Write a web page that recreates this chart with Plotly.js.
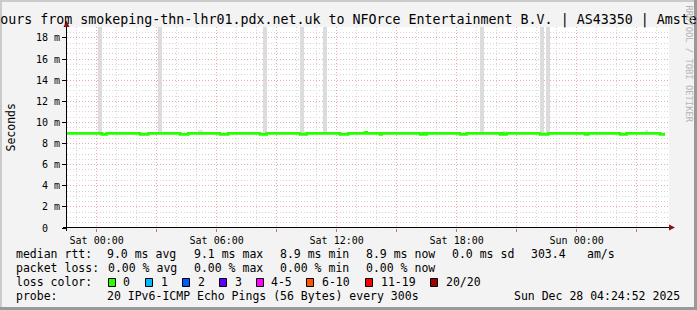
<!DOCTYPE html>
<html><head><meta charset="utf-8">
<script src="https://cdn.plot.ly/plotly-3.0.1.min.js"></script>
<style>html,body{margin:0;padding:0;background:#f3f3f3;overflow:hidden}#chart{width:697px;height:310px;}</style>
</head><body><div id="chart"></div>
<script>
// ---- data ----
const titleText = "ours from smokeping-thn-lhr01.pdx.net.uk to NFOrce Entertainment B.V. | AS43350 | Amste";
// median RTT (ms), step changes
const medTime = ["2025-12-26 22:31","2025-12-27 00:15","2025-12-27 00:30","2025-12-27 02:10","2025-12-27 02:35",
  "2025-12-27 04:10","2025-12-27 04:35","2025-12-27 06:10","2025-12-27 06:35","2025-12-27 08:10","2025-12-27 08:30",
  "2025-12-27 10:10","2025-12-27 10:30","2025-12-27 12:10","2025-12-27 12:35","2025-12-27 13:25","2025-12-27 13:30",
  "2025-12-27 14:10","2025-12-27 14:15","2025-12-27 16:10","2025-12-27 16:20","2025-12-27 16:25","2025-12-27 16:30",
  "2025-12-27 18:10","2025-12-27 18:30","2025-12-27 20:10","2025-12-27 20:15","2025-12-27 20:20","2025-12-27 20:30",
  "2025-12-27 22:10","2025-12-27 22:35","2025-12-28 00:25","2025-12-28 00:35","2025-12-28 02:10","2025-12-28 02:30",
  "2025-12-28 04:10","2025-12-28 04:25"];
const medVal = [8.97,8.86,8.97,8.86,8.97,
  8.86,8.97,8.86,8.97,8.86,8.97,
  8.86,8.97,8.86,8.97,9.06,8.97,
  8.86,8.97,8.86,8.97,8.86,8.97,
  8.86,8.97,8.86,8.97,8.86,8.97,
  8.86,8.97,8.86,8.97,8.86,8.97,
  8.86,8.86];
// tall smoke (max ping far above median)
const spikeTime = ["2025-12-27 00:09","2025-12-27 03:10","2025-12-27 08:25","2025-12-27 10:16","2025-12-27 11:25",
  "2025-12-27 19:16","2025-12-27 22:16","2025-12-27 22:34"];
const spikeWidthMin = [12,12,12,12,12,12,12,12];
const spikeTop = [25,25,25,25,25,25,25,25];
// small smoke just above the median line
const smokeTime = ["2025-12-26 23:54","2025-12-27 01:40","2025-12-27 05:10","2025-12-27 07:40","2025-12-27 08:45",
  "2025-12-27 12:20","2025-12-27 13:50","2025-12-27 15:28","2025-12-27 17:12","2025-12-27 17:56","2025-12-27 19:35",
  "2025-12-27 20:25","2025-12-27 21:30","2025-12-28 01:10","2025-12-28 03:30","2025-12-28 03:53"];
const smokeWidthMin = [10,12,15,12,10,15,40,24,15,15,10,12,40,18,10,15];
const smokeTop = [9.07,9.07,9.3,9.07,9.1,9.07,9.07,9.12,9.07,9.07,9.07,9.15,9.07,9.1,9.3,9.07];
const medianBase = 8.97;
// axes
const xTickVals = ["2025-12-27 00:00","2025-12-27 03:00","2025-12-27 06:00","2025-12-27 09:00","2025-12-27 12:00",
  "2025-12-27 15:00","2025-12-27 18:00","2025-12-27 21:00","2025-12-28 00:00","2025-12-28 03:00"];
const xTickText = ["Sat 00:00","","Sat 06:00","","Sat 12:00","","Sat 18:00","","Sun 00:00",""];
const yTickVals = [0,2,4,6,8,10,12,14,16,18];
const yTickText = ["0\u00a0\u00a0","2 m","4 m","6 m","8 m","10 m","12 m","14 m","16 m","18 m"];
// legend
const lossLabels = ["0","1","2","3","4-5","6-10","11-19","20/20"];
const lossColors = ["#26ff00","#00b8ff","#0059ff","#5e00ff","#ff00ff","#ff5500","#ff0000","#a00000"];
const rttItems = ["9.0 ms avg","9.1 ms max","8.9 ms min","8.9 ms now","0.0 ms sd","303.4","am/s"];
const lossItems = ["0.00 % avg","0.00 % max","0.00 % min","0.00 % now"];
const probeText = "20 IPv6-ICMP Echo Pings (56 Bytes) every 300s";
const dateText = "Sun Dec 28 04:24:52 2025";

// ---- layout helpers (pixel -> paper) ----
const L = 67, R = 669, T = 27, B = 228, W = 697, H = 310;
const PX = p => (p - L) / (R - L);
const PY = p => (B - p) / (B - T);
const MONO = "DejaVu Sans Mono";

const traces = [
  {type:'bar', x:spikeTime, y:spikeTop.map(v=>v-medianBase), base:spikeTime.map(()=>medianBase),
   width:spikeWidthMin.map(m=>m*60000), marker:{color:'#dcdcdc', line:{width:0}}, hoverinfo:'skip', showlegend:false},
  {type:'bar', x:smokeTime, y:smokeTop.map(v=>v-medianBase), base:smokeTime.map(()=>medianBase),
   width:smokeWidthMin.map(m=>m*60000), marker:{color:'#e2e2e2', line:{width:0}}, hoverinfo:'skip', showlegend:false},
  {type:'scatter', mode:'lines', x:medTime, y:medVal, line:{color:'#26ff00', width:2.7, shape:'hv'},
   hoverinfo:'skip', showlegend:false}
];

const ann = [];
function txt(text, x, yc, opts) {
  ann.push(Object.assign({text:text, x:PX(x), y:PY(yc), xref:'paper', yref:'paper', showarrow:false,
    xanchor:'left', yanchor:'middle', font:{family:MONO, size:11.5, color:'#000'}, borderpad:0}, opts||{}));
}
const rowY = [254, 268, 282, 296];
txt("median rtt:", 15, rowY[0]);
const rttX = [106, 192.5, 278.5, 364.5, 451, 529.5, 585.5];
rttItems.forEach((t,i)=>txt(t, rttX[i], rowY[0]));
txt("packet loss:", 15, rowY[1]);
const lossX = [106.5, 192.5, 278.5, 364.5];
lossItems.forEach((t,i)=>txt(t, lossX[i], rowY[1]));
txt("loss color:", 15, rowY[2]);
const boxX = [108.5, 145.5, 182.5, 219.5, 256.5, 306.5, 365.5, 430.5];
const lblX = [122, 159.5, 196.5, 233.5, 270, 320.5, 380, 445];
lossLabels.forEach((t,i)=>txt(t, lblX[i], rowY[2]));
txt("probe:", 15, rowY[3]);
txt(probeText, 106, rowY[3]);
txt(dateText, 681, rowY[3], {xanchor:'right'});
// axis title and watermark
ann.push({text:"Seconds", x:PX(10), y:PY(127.5), xref:'paper', yref:'paper', showarrow:false, textangle:-90,
  xanchor:'center', yanchor:'middle', font:{family:MONO, size:11.5, color:'#000'}});
ann.push({text:"RRDTOOL / TOBI OETIKER", x:PX(688.5), y:PY(64), xref:'paper', yref:'paper', showarrow:false, textangle:90,
  xanchor:'center', yanchor:'middle', font:{family:MONO, size:8.8, color:'#b4b4b4'}});

const shapes = [];
// frame
shapes.push({type:'rect', xref:'paper', yref:'paper', x0:PX(0), x1:PX(W), y0:PY(0), y1:PY(2), fillcolor:'#cbcbcb', line:{width:0}, layer:'below'});
shapes.push({type:'rect', xref:'paper', yref:'paper', x0:PX(0), x1:PX(2), y0:PY(0), y1:PY(H), fillcolor:'#cbcbcb', line:{width:0}, layer:'below'});
shapes.push({type:'rect', xref:'paper', yref:'paper', x0:PX(0), x1:PX(W), y0:PY(H-3), y1:PY(H), fillcolor:'#999999', line:{width:0}, layer:'below'});
shapes.push({type:'rect', xref:'paper', yref:'paper', x0:PX(W-3), x1:PX(W), y0:PY(0), y1:PY(H), fillcolor:'#999999', line:{width:0}, layer:'below'});
// axis lines
shapes.push({type:'line', xref:'paper', yref:'paper', x0:PX(63), x1:PX(669), y0:PY(227.5), y1:PY(227.5), line:{color:'#000', width:1}});
shapes.push({type:'line', xref:'paper', yref:'paper', x0:PX(66.5), x1:PX(66.5), y0:PY(231), y1:PY(26), line:{color:'#000', width:1}});
// arrows
shapes.push({type:'path', xref:'paper', yref:'paper', fillcolor:'#8b1010', line:{width:0},
  path:`M ${PX(63.5)} ${PY(27)} L ${PX(69.5)} ${PY(27)} L ${PX(66.5)} ${PY(20.5)} Z`});
shapes.push({type:'path', xref:'paper', yref:'paper', fillcolor:'#8b1010', line:{width:0},
  path:`M ${PX(669)} ${PY(224.5)} L ${PX(669)} ${PY(230.5)} L ${PX(675)} ${PY(227.5)} Z`});
// loss colour boxes
boxX.forEach((bx,i)=>shapes.push({type:'rect', xref:'paper', yref:'paper', x0:PX(bx), x1:PX(bx+7), y0:PY(286.5), y1:PY(278.5),
  fillcolor:lossColors[i], line:{color:'#000', width:1}}));

const gridRed = '#eaa8a8', gridGray = '#d6d6d6';
const layout = {
  width:W, height:H, margin:{l:L, r:W-R, t:T, b:H-B, pad:0},
  paper_bgcolor:'#f3f3f3', plot_bgcolor:'#ffffff',
  title:{text:titleText, x:0.5, xref:'container', xanchor:'center', y:1-19/H, yref:'container', yanchor:'middle',
    font:{family:MONO, size:13.3, color:'#000'}},
  font:{family:MONO, color:'#000'},
  bargap:0, barmode:'overlay',
  xaxis:{type:'date', range:["2025-12-26 22:31","2025-12-28 04:37"], tickmode:'array', tickvals:xTickVals, ticktext:xTickText,
    showgrid:true, gridcolor:gridRed, gridwidth:1, griddash:'1px,2px', ticks:'outside', ticklen:3, tickcolor:'#d07070',
    tickfont:{family:MONO, size:10, color:'#000'}, showline:false, zeroline:false, fixedrange:true,
    minor:{dtick:3600000, tick0:"2025-12-27 00:00", showgrid:true, gridcolor:gridGray, griddash:'1px,2px', ticks:''}},
  yaxis:{range:[0,19.04], tickmode:'array', tickvals:yTickVals, ticktext:yTickText,
    showgrid:true, gridcolor:gridRed, gridwidth:1, griddash:'1px,2px', ticks:'outside', ticklen:4, tickcolor:'#000',
    tickfont:{family:MONO, size:10, color:'#000'}, showline:false, zeroline:false, fixedrange:true,
    minor:{dtick:0.5, tick0:0, showgrid:true, gridcolor:gridGray, griddash:'1px,2px', ticks:''}},
  annotations:ann, shapes:shapes, showlegend:false
};
Plotly.newPlot('chart', traces, layout, {staticPlot:true, displayModeBar:false});
</script></body></html>
